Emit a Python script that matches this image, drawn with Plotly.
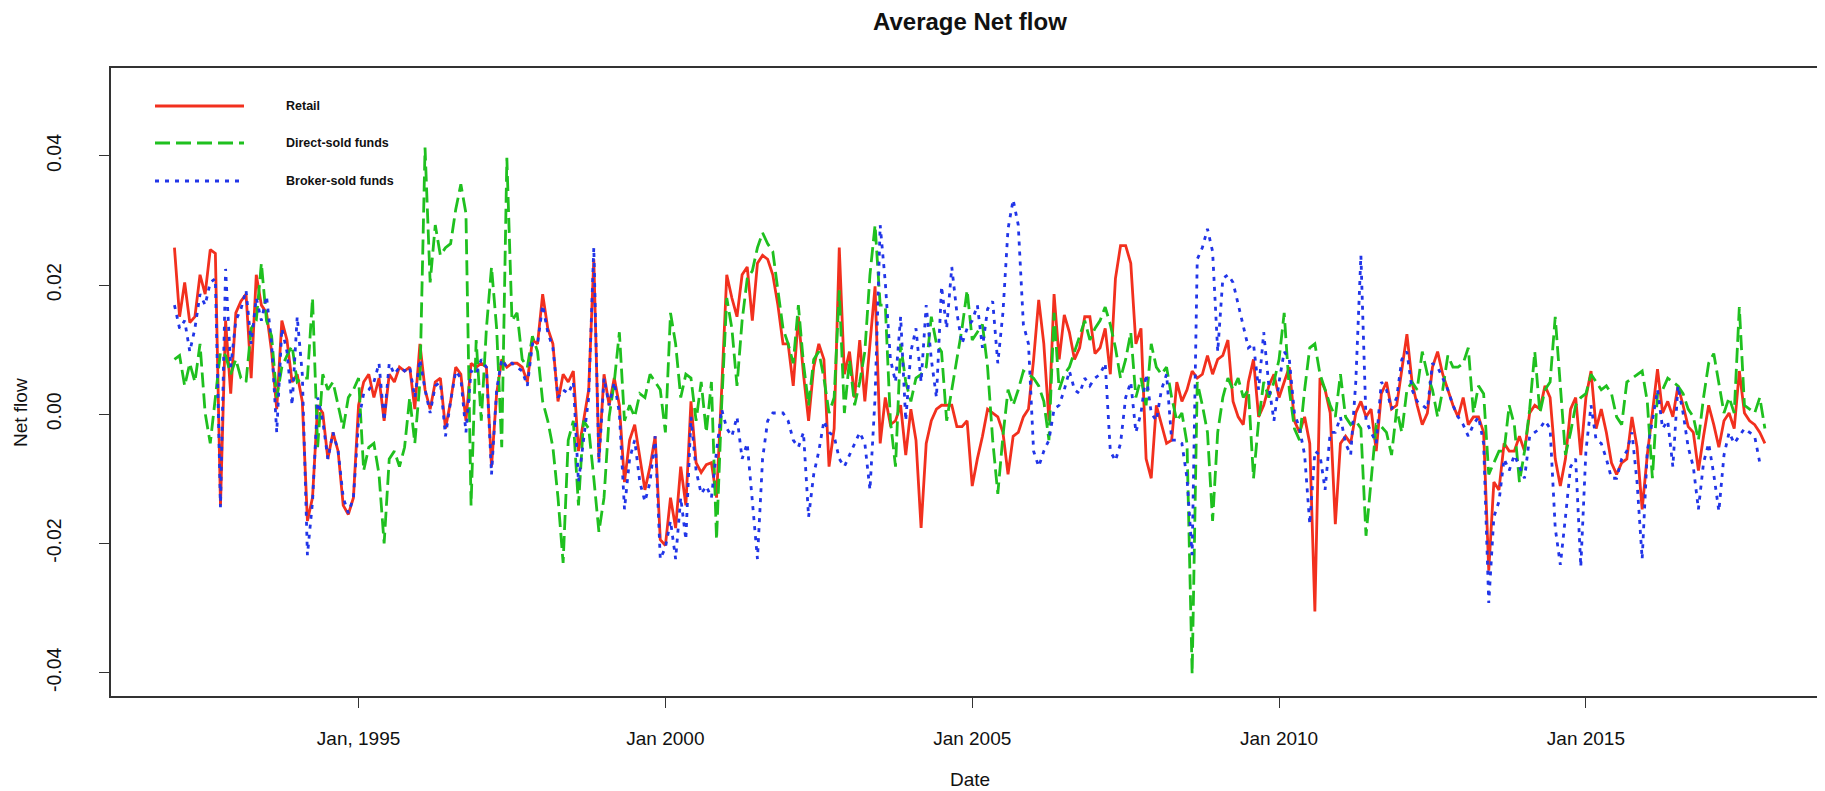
import plotly.graph_objects as go

# Monthly observations, Jan 1992 .. Dec 2017 (one row per year)
start_year = 1992
retail = [
    0.0258, 0.0151, 0.0204, 0.0142, 0.0151, 0.0216, 0.0186, 0.0255, 0.0249, -0.0141, 0.0145, 0.0032,
    0.0157, 0.0175, 0.0186, 0.0056, 0.0216, 0.0169, 0.0157, 0.0097, 0.0008, 0.0145, 0.0115, 0.0050,
    0.0062, 0.0020, -0.0165, -0.0129, 0.0014, 0.0002, -0.0069, -0.0028, -0.0057, -0.0141, -0.0155, -0.0129,
    0.0014, 0.0050, 0.0062, 0.0026, 0.0056, -0.0010, 0.0062, 0.0050, 0.0073, 0.0067, 0.0073, 0.0008,
    0.0109, 0.0038, 0.0008, 0.0050, 0.0056, -0.0022, 0.0020, 0.0073, 0.0062, -0.0010, 0.0079, 0.0073,
    0.0079, 0.0073, -0.0081, 0.0032, 0.0085, 0.0073, 0.0079, 0.0079, 0.0073, 0.0050, 0.0115, 0.0109,
    0.0186, 0.0133, 0.0109, 0.0020, 0.0062, 0.0050, 0.0067, -0.0057, -0.0010, 0.0038, 0.0240, -0.0069,
    0.0062, 0.0014, 0.0056, 0.0014, -0.0105, -0.0040, -0.0016, -0.0069, -0.0117, -0.0081, -0.0034, -0.0194,
    -0.0203, -0.0129, -0.0176, -0.0081, -0.0141, 0.0020, -0.0075, -0.0090, -0.0078, -0.0075, -0.0129, 0.0038,
    0.0216, 0.0180, 0.0151, 0.0216, 0.0228, 0.0145, 0.0234, 0.0246, 0.0240, 0.0216, 0.0169, 0.0109,
    0.0109, 0.0044, 0.0151, 0.0062, -0.0010, 0.0073, 0.0109, 0.0085, -0.0081, -0.0022, 0.0258, 0.0062,
    0.0097, 0.0026, 0.0115, 0.0020, 0.0109, 0.0198, -0.0045, 0.0026, -0.0016, -0.0010, 0.0014, -0.0063,
    0.0008, -0.0040, -0.0176, -0.0045, -0.0010, 0.0008, 0.0014, 0.0014, 0.0014, -0.0019, -0.0019, -0.0010,
    -0.0111, -0.0069, -0.0034, 0.0008, 0.0002, -0.0004, -0.0028, -0.0093, -0.0034, -0.0028, -0.0004, 0.0008,
    0.0085, 0.0177, 0.0109, -0.0010, 0.0186, 0.0085, 0.0154, 0.0127, 0.0085, 0.0103, 0.0151, 0.0151,
    0.0094, 0.0103, 0.0133, 0.0062, 0.0210, 0.0261, 0.0261, 0.0234, 0.0109, 0.0133, -0.0069, -0.0099,
    0.0014, -0.0016, -0.0045, -0.0040, 0.0050, 0.0020, 0.0038, 0.0067, 0.0056, 0.0062, 0.0091, 0.0062,
    0.0085, 0.0091, 0.0115, 0.0020, -0.0004, -0.0016, 0.0050, 0.0085, -0.0004, 0.0014, 0.0044, 0.0062,
    0.0026, 0.0050, 0.0073, -0.0010, -0.0028, -0.0004, -0.0045, -0.0305, 0.0056, 0.0038, 0.0002, -0.0170,
    -0.0045, -0.0034, -0.0045, 0.0002, 0.0020, -0.0004, 0.0008, -0.0057, 0.0032, 0.0050, 0.0008, 0.0014,
    0.0073, 0.0124, 0.0050, 0.0014, -0.0016, 0.0002, 0.0073, 0.0097, 0.0062, 0.0038, 0.0014, -0.0004,
    0.0026, -0.0016, -0.0004, -0.0004, -0.0028, -0.0242, -0.0105, -0.0117, -0.0045, -0.0057, -0.0057, -0.0034,
    -0.0057, 0.0002, 0.0014, 0.0008, 0.0044, 0.0026, -0.0069, -0.0111, -0.0069, 0.0008, 0.0026, -0.0063,
    0.0026, 0.0067, -0.0022, 0.0008, -0.0028, -0.0075, -0.0093, -0.0075, -0.0069, -0.0004, -0.0051, -0.0147,
    -0.0063, 0.0002, 0.0070, 0.0002, 0.0020, -0.0004, 0.0044, 0.0014, -0.0019, -0.0028, -0.0087, -0.0034,
    0.0014, -0.0016, -0.0051, -0.0010, 0.0002, -0.0022, 0.0067, 0.0002, -0.0010, -0.0016, -0.0028, -0.0045,
]
direct_sold = [
    0.0085, 0.0091, 0.0044, 0.0079, 0.0050, 0.0109, 0.0002, -0.0045, 0.0026, 0.0097, 0.0091, 0.0062,
    0.0085, 0.0056, 0.0050, 0.0133, 0.0145, 0.0234, 0.0145, 0.0121, 0.0026, 0.0073, 0.0091, 0.0106,
    0.0050, 0.0056, 0.0056, 0.0180, -0.0051, 0.0062, 0.0038, 0.0050, 0.0014, -0.0022, 0.0026, 0.0038,
    0.0056, -0.0087, -0.0051, -0.0045, -0.0093, -0.0200, -0.0069, -0.0057, -0.0081, -0.0051, 0.0026, -0.0045,
    0.0050, 0.0413, 0.0204, 0.0293, 0.0246, 0.0258, 0.0264, 0.0317, 0.0356, 0.0311, -0.0141, 0.0115,
    -0.0010, 0.0133, 0.0228, 0.0133, -0.0051, 0.0397, 0.0145, 0.0157, 0.0085, 0.0073, 0.0121, 0.0097,
    0.0020, -0.0010, -0.0051, -0.0129, -0.0230, -0.0040, -0.0010, -0.0141, -0.0010, -0.0022, -0.0099, -0.0182,
    -0.0129, -0.0004, 0.0050, 0.0127, -0.0010, 0.0014, -0.0004, 0.0032, 0.0026, 0.0062, 0.0050, 0.0038,
    -0.0028, 0.0157, 0.0109, 0.0026, 0.0062, 0.0056, -0.0010, 0.0050, -0.0028, 0.0050, -0.0194, 0.0014,
    0.0180, 0.0133, 0.0044, 0.0145, 0.0210, 0.0222, 0.0258, 0.0281, 0.0264, 0.0252, 0.0192, 0.0133,
    0.0109, 0.0079, 0.0169, 0.0079, 0.0014, 0.0085, 0.0097, 0.0056, 0.0002, 0.0026, 0.0192, 0.0002,
    0.0085, 0.0014, 0.0050, 0.0097, 0.0216, 0.0293, 0.0169, 0.0169, -0.0010, -0.0081, 0.0109, 0.0050,
    0.0020, 0.0056, 0.0062, 0.0073, 0.0151, 0.0109, 0.0097, -0.0010, 0.0038, 0.0085, 0.0133, 0.0192,
    0.0115, 0.0127, 0.0139, 0.0073, -0.0040, -0.0123, -0.0034, 0.0038, 0.0014, 0.0038, 0.0067, 0.0062,
    0.0056, 0.0044, 0.0020, -0.0040, 0.0157, 0.0038, 0.0062, 0.0073, 0.0097, 0.0121, 0.0145, 0.0115,
    0.0133, 0.0145, 0.0166, 0.0139, 0.0103, 0.0056, 0.0085, 0.0127, 0.0026, 0.0056, 0.0014, 0.0109,
    0.0073, 0.0062, 0.0073, 0.0026, -0.0010, 0.0002, -0.0045, -0.0402, 0.0050, 0.0014, -0.0028, -0.0165,
    -0.0028, 0.0026, 0.0056, 0.0038, 0.0056, 0.0026, 0.0038, -0.0099, -0.0010, 0.0050, 0.0026, 0.0050,
    0.0085, 0.0157, 0.0038, -0.0022, -0.0040, 0.0038, 0.0103, 0.0109, 0.0062, 0.0038, 0.0014, -0.0004,
    0.0062, -0.0004, -0.0016, -0.0010, -0.0022, -0.0188, -0.0105, -0.0016, -0.0019, -0.0028, -0.0063, 0.0008,
    -0.0028, 0.0038, 0.0050, 0.0038, 0.0097, 0.0062, 0.0038, -0.0004, 0.0038, 0.0091, 0.0073, 0.0073,
    0.0079, 0.0103, 0.0002, 0.0044, 0.0032, -0.0093, -0.0075, -0.0057, -0.0057, 0.0014, -0.0016, -0.0105,
    -0.0057, 0.0008, 0.0097, 0.0002, 0.0038, 0.0050, 0.0151, 0.0050, -0.0063, -0.0028, 0.0014, 0.0026,
    0.0032, 0.0062, 0.0050, 0.0038, 0.0044, 0.0032, -0.0004, -0.0016, 0.0050, 0.0056, 0.0062, 0.0067,
    0.0020, -0.0099, 0.0032, 0.0038, 0.0056, 0.0050, 0.0044, 0.0032, 0.0008, -0.0004, -0.0040, 0.0026,
    0.0079, 0.0094, 0.0050, 0.0002, 0.0026, 0.0002, 0.0166, 0.0014, 0.0008, 0.0002, 0.0026, -0.0022,
]
broker_sold = [
    0.0169, 0.0133, 0.0145, 0.0097, 0.0133, 0.0186, 0.0169, 0.0204, 0.0210, -0.0144, 0.0225, 0.0073,
    0.0145, 0.0163, 0.0192, 0.0109, 0.0180, 0.0145, 0.0183, 0.0109, -0.0028, 0.0133, 0.0097, 0.0014,
    0.0151, 0.0062, -0.0218, -0.0135, 0.0026, -0.0010, -0.0069, -0.0028, -0.0057, -0.0129, -0.0153, -0.0129,
    -0.0010, 0.0032, 0.0038, 0.0050, 0.0079, -0.0010, 0.0079, 0.0062, 0.0073, 0.0067, 0.0073, 0.0026,
    0.0085, 0.0038, 0.0002, 0.0044, 0.0050, -0.0034, 0.0020, 0.0067, 0.0056, -0.0028, 0.0067, 0.0062,
    0.0085, 0.0073, -0.0093, 0.0038, 0.0085, 0.0073, 0.0079, 0.0073, 0.0067, 0.0044, 0.0109, 0.0109,
    0.0169, 0.0127, 0.0103, 0.0026, 0.0038, 0.0032, 0.0050, -0.0105, -0.0040, 0.0026, 0.0258, -0.0075,
    0.0056, 0.0014, 0.0050, 0.0002, -0.0147, -0.0069, -0.0040, -0.0105, -0.0135, -0.0105, -0.0034, -0.0224,
    -0.0206, -0.0165, -0.0224, -0.0129, -0.0194, -0.0004, -0.0087, -0.0123, -0.0111, -0.0129, -0.0057, 0.0008,
    -0.0022, -0.0034, -0.0004, -0.0069, -0.0045, -0.0129, -0.0224, -0.0069, -0.0010, 0.0002, 0.0002, 0.0002,
    -0.0010, -0.0040, -0.0051, -0.0028, -0.0159, -0.0093, -0.0057, -0.0010, -0.0028, -0.0034, -0.0069, -0.0081,
    -0.0063, -0.0045, -0.0028, -0.0045, -0.0117, 0.0026, 0.0293, 0.0204, 0.0085, 0.0050, 0.0151, -0.0010,
    0.0097, 0.0133, 0.0050, 0.0169, 0.0085, 0.0026, 0.0198, 0.0133, 0.0228, 0.0157, 0.0109, 0.0133,
    0.0145, 0.0169, 0.0103, 0.0163, 0.0175, 0.0079, 0.0157, 0.0287, 0.0332, 0.0293, 0.0139, 0.0109,
    -0.0057, -0.0081, -0.0057, -0.0040, 0.0008, 0.0014, 0.0038, 0.0067, 0.0038, 0.0032, 0.0056, 0.0044,
    0.0056, 0.0062, 0.0079, -0.0057, -0.0072, -0.0045, 0.0026, 0.0050, -0.0028, 0.0002, 0.0062, 0.0002,
    -0.0010, 0.0038, 0.0062, -0.0040, -0.0040, -0.0045, -0.0099, -0.0218, 0.0240, 0.0258, 0.0287, 0.0252,
    0.0097, 0.0210, 0.0216, 0.0204, 0.0169, 0.0133, 0.0103, 0.0109, 0.0038, 0.0127, 0.0044, -0.0010,
    0.0050, 0.0097, 0.0085, 0.0002, -0.0022, -0.0063, -0.0170, -0.0057, -0.0063, -0.0117, -0.0028, -0.0028,
    -0.0004, -0.0045, -0.0063, 0.0050, 0.0246, -0.0010, -0.0028, -0.0045, 0.0050, 0.0038, 0.0008, 0.0026,
    0.0085, 0.0097, 0.0038, 0.0020, 0.0014, 0.0008, 0.0079, 0.0073, 0.0056, 0.0038, 0.0014, -0.0004,
    -0.0016, -0.0034, -0.0016, -0.0004, -0.0045, -0.0292, -0.0159, -0.0135, -0.0069, -0.0087, -0.0063, -0.0081,
    -0.0099, -0.0034, -0.0028, -0.0022, -0.0010, -0.0022, -0.0176, -0.0233, -0.0159, -0.0081, -0.0069, -0.0236,
    -0.0057, 0.0014, -0.0040, -0.0045, -0.0069, -0.0099, -0.0099, -0.0069, -0.0057, -0.0028, -0.0105, -0.0224,
    -0.0057, -0.0010, 0.0038, -0.0022, -0.0010, -0.0081, 0.0044, 0.0002, -0.0051, -0.0081, -0.0147, -0.0075,
    -0.0045, -0.0093, -0.0150, -0.0063, -0.0028, -0.0045, -0.0034, -0.0022, -0.0028, -0.0034, -0.0075, None,
]
tick_years = [1995, 2000, 2005, 2010, 2015]
tick_labels = ["Jan, 1995", "Jan 2000", "Jan 2005", "Jan 2010", "Jan 2015"]
y_ticks = [-0.04, -0.02, 0.0, 0.02, 0.04]
y_tick_labels = ["-0.04", "-0.02", "0.00", "0.02", "0.04"]
series_names = ["Retail", "Direct-sold funds", "Broker-sold funds"]

months = [start_year + i / 12 for i in range(len(retail))]

RED = "#F2301E"
GREEN = "#1FC01F"
BLUE = "#2135E8"
FONT = "Liberation Sans, Arial, Helvetica, sans-serif"

styles = [
    dict(color=RED, width=2.8, dash="solid"),
    dict(color=GREEN, width=2.8, dash="15px,6px"),
    dict(color=BLUE, width=2.8, dash="4px,6px"),
]

fig = go.Figure()
for name, vals, st in zip(series_names, [retail, direct_sold, broker_sold], styles):
    fig.add_trace(go.Scatter(x=months, y=vals, mode="lines", name=name,
                             line=st, connectgaps=False, showlegend=False))

# The page body adds an 8px offset; page coordinates below are for the 1825x791 window.
OFF = 8
W, H = 1825 - OFF, 791 - OFF
PL, PT, PB = 111, 68, 696          # plot box edges in page pixels (right edge = window edge)
L, T = PL - OFF, PT - OFF
B = H - (PB - OFF)
R = 0
pw, ph = W - L - R, H - T - B


def px_x(px):
    return (px - OFF - L) / pw


def px_y(py):
    return (PB - py) / ph


# hand-drawn legend like R's legend()
shapes = []
annotations = []
leg_rows = [106, 143, 181]
for name, st, py in zip(series_names, styles, leg_rows):
    shapes.append(dict(type="line", xref="paper", yref="paper",
                       x0=px_x(155), x1=px_x(244), y0=px_y(py), y1=px_y(py),
                       line=dict(color=st["color"], width=st["width"], dash=st["dash"])))
    annotations.append(dict(text="<b>%s</b>" % name, xref="paper", yref="paper",
                            x=px_x(284), y=px_y(py), xanchor="left", yanchor="middle",
                            showarrow=False, font=dict(size=12.5, color="#111", family=FONT)))

annotations.append(dict(text="<b>Average Net flow</b>", xref="paper", yref="paper",
                        x=px_x(970), y=px_y(21), xanchor="center", yanchor="middle",
                        showarrow=False, font=dict(size=24, color="#111", family=FONT)))
annotations.append(dict(text="Date", xref="paper", yref="paper",
                        x=px_x(970), y=px_y(779), xanchor="center", yanchor="middle",
                        showarrow=False, font=dict(size=19, color="#111", family=FONT)))
annotations.append(dict(text="Net flow", xref="paper", yref="paper",
                        x=px_x(21), y=px_y(413), xanchor="center", yanchor="middle",
                        textangle=-90, showarrow=False,
                        font=dict(size=19, color="#111", family=FONT)))

fig.update_layout(
    width=W, height=H,
    margin=dict(l=L, r=R, t=T, b=B, pad=0),
    paper_bgcolor="white", plot_bgcolor="white",
    font=dict(family=FONT, size=19, color="#111"),
    shapes=shapes, annotations=annotations,
    showlegend=False,
)
fig.update_xaxes(range=[1990.966, 2018.896], tickvals=tick_years, ticktext=tick_labels,
                 showgrid=False, zeroline=False, showline=True, linecolor="#333",
                 linewidth=2, mirror=True, ticks="outside", ticklen=10, tickwidth=1,
                 tickcolor="#333", ticklabelstandoff=14, tickfont=dict(size=19))
fig.update_yaxes(range=[-0.0436, 0.0536], tickvals=y_ticks, ticktext=y_tick_labels,
                 tickangle=-90, showgrid=False, zeroline=False, showline=True,
                 linecolor="#333", linewidth=2, ticks="outside", ticklen=10,
                 tickwidth=1, tickcolor="#333", ticklabelstandoff=30,
                 tickfont=dict(size=19.5))

fig.write_html("out.html", config=dict(displayModeBar=False))
